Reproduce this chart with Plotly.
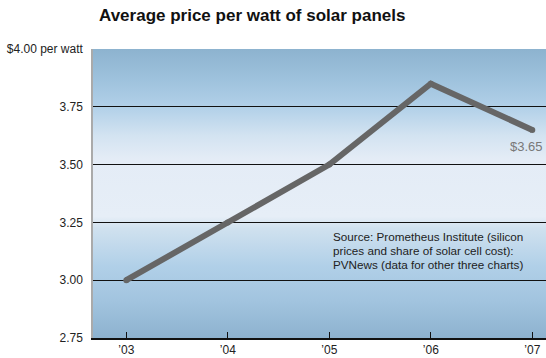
import base64
import plotly.graph_objects as go

# Average module price per watt, by year
years = [2003, 2004, 2005, 2006, 2007]
year_labels = ["\u201903", "\u201904", "\u201905", "\u201906", "\u201907"]
price_per_watt = [3.00, 3.25, 3.50, 3.85, 3.65]

y_ticks = [2.75, 3.00, 3.25, 3.50, 3.75, 4.00]
y_tick_labels = ["2.75", "3.00", "3.25", "3.50", "3.75", "$4.00 per watt"]

last_label = "$3.65"
source_lines = [
    "Source: Prometheus Institute (silicon",
    "prices and share of solar cell cost):",
    "PVNews (data for other three charts)",
]

FONT = "Liberation Sans, Arial, Helvetica, sans-serif"

# Vertical blue-white-blue gradient used as the plot background
stops = [
    (0.00, "#8db3cf"),
    (0.10, "#9dc1dc"),
    (0.20, "#b1d0e8"),
    (0.30, "#d3e3f1"),
    (0.38, "#e4ecf6"),
    (0.58, "#e6eef7"),
    (0.62, "#d0e1ef"),
    (0.75, "#b1d0e8"),
    (0.87, "#a2c4df"),
    (1.00, "#8db2cf"),
]
stop_xml = "".join(
    f'<stop offset="{o}" stop-color="{c}"/>' for o, c in stops
)
svg = (
    '<svg xmlns="http://www.w3.org/2000/svg" width="100" height="100" '
    'viewBox="0 0 100 100" preserveAspectRatio="none">'
    '<defs><linearGradient id="g" x1="0" y1="0" x2="0" y2="1">'
    f"{stop_xml}</linearGradient></defs>"
    '<rect x="0" y="0" width="100" height="100" fill="url(#g)"/></svg>'
)
bg_uri = "data:image/svg+xml;base64," + base64.b64encode(svg.encode()).decode()

fig = go.Figure()
fig.add_trace(go.Scatter(
    x=years,
    y=price_per_watt,
    mode="lines+markers",
    line=dict(color="#666666", width=6),
    marker=dict(color="#666666", size=6),
    hoverinfo="skip",
    showlegend=False,
))

fig.add_annotation(
    x=years[-1], y=price_per_watt[-1],
    text=last_label, showarrow=False,
    xanchor="center", yanchor="middle",
    xshift=-6, yshift=-17,
    font=dict(family=FONT, size=13, color="#787878"),
)

# Source note, one line per annotation for tight line spacing
for i, line in enumerate(source_lines):
    fig.add_annotation(
        x=0.526, y=0.350, xref="paper", yref="paper",
        text=line, showarrow=False,
        xanchor="left", yanchor="middle", align="left",
        yshift=-14 * i,
        font=dict(family=FONT, size=11.7, color="#222222"),
    )

fig.update_layout(
    width=546, height=358,
    margin=dict(l=93, r=0, t=49, b=20),
    paper_bgcolor="white",
    plot_bgcolor="rgba(0,0,0,0)",
    font=dict(family=FONT, size=12, color="#111111"),
    title=dict(
        text="<b>Average price per watt of solar panels</b>",
        x=99 / 546, xanchor="left",
        y=1 - 15 / 358, yanchor="middle", yref="container",
        font=dict(family=FONT, size=17, color="#111111"),
    ),
    images=[dict(
        source=bg_uri, xref="paper", yref="paper",
        x=0, y=1, sizex=1, sizey=1,
        xanchor="left", yanchor="top",
        sizing="stretch", layer="below",
    )],
    xaxis=dict(
        range=[2002.672, 2007.135],
        tickvals=years, ticktext=year_labels,
        showgrid=False, zeroline=False,
        showline=True, linecolor="#111111", linewidth=1.5,
        ticks="inside", ticklen=6, tickcolor="#111111", tickwidth=1,
        tickfont=dict(family=FONT, size=12, color="#222222"),
        fixedrange=True,
    ),
    yaxis=dict(
        range=[2.75, 4.0],
        tickvals=y_ticks, ticktext=y_tick_labels,
        showgrid=True, gridcolor="#111111", gridwidth=1.2,
        zeroline=False,
        showline=True, linecolor="#aaaaaa", linewidth=1.5,
        ticks="", ticklabelstandoff=6,
        tickfont=dict(family=FONT, size=12, color="#222222"),
        fixedrange=True,
    ),
)

fig.write_html("out.html")
